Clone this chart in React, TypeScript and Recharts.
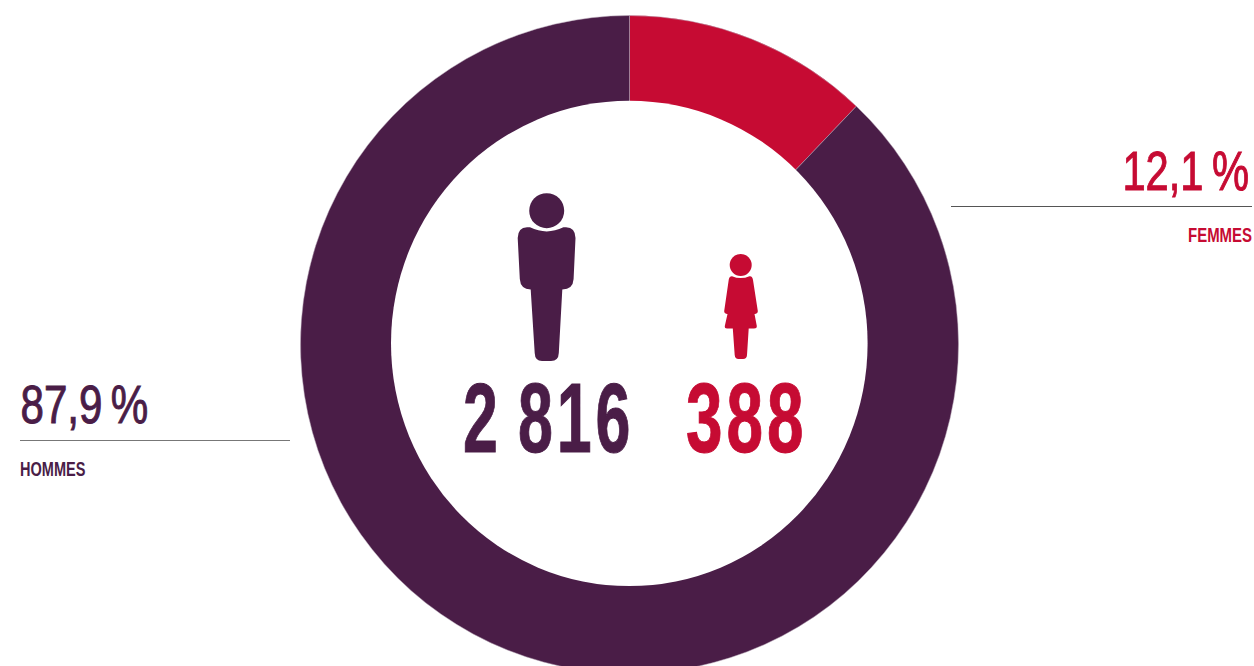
import React from "react";
import { PieChart, Pie, Cell } from "recharts";

const categories = ["FEMMES", "HOMMES"];
const counts = [388, 2816];
const countLabels = ["388", "2\u2009816"];
const percentLabels = ["12,1\u2009%", "87,9\u2009%"];
const colors = ["#c60b33", "#4a1d47"];

const data = categories.map((name, i) => ({ name, value: counts[i] }));
const FONT = "'Liberation Sans Narrow', 'Liberation Sans', sans-serif";

const W = 1254;
const H = 666;

function Label(p: {
  x: number; y: number; sx: number; size: number; fill: string; children: React.ReactNode;
  bold?: boolean; sw?: number; end?: boolean; spacing?: number;
}) {
  return (
    <text
      transform={`translate(${p.x} ${p.y}) scale(${p.sx} 1)`}
      fill={p.fill}
      stroke={p.sw ? p.fill : undefined}
      strokeWidth={p.sw}
      fontFamily={FONT}
      fontWeight={p.bold ? 700 : 400}
      fontSize={p.size}
      letterSpacing={p.spacing}
      textAnchor={p.end ? "end" : "start"}
    >
      {p.children}
    </text>
  );
}

export default function App() {
  const [red, plum] = colors;
  return (
    <div style={{ position: "absolute", left: 0, top: 0, width: W, height: H, overflow: "hidden", background: "#fff" }}>
      <div style={{ position: "absolute", left: 0, top: 0 }}>
        <PieChart width={W} height={H} margin={{ top: 0, right: 0, bottom: 0, left: 0 }}>
          <Pie
            data={data}
            dataKey="value"
            nameKey="name"
            cx={629.5}
            cy={344.5}
            innerRadius={236}
            outerRadius={329}
            startAngle={90}
            endAngle={-270}
            stroke="#b9a9b8"
            strokeWidth={0.5}
            isAnimationActive={false}
          >
            {data.map((d, i) => (
              <Cell key={d.name} fill={colors[i]} />
            ))}
          </Pie>
        </PieChart>
      </div>
      <svg width={W} height={H} style={{ position: "absolute", left: 0, top: 0 }}>
        {/* the hole of the ring is slightly taller than wide */}
        <ellipse cx={629.3} cy={343.4} rx={238.3} ry={242.7} fill="#fff" />

        {/* man */}
        <circle cx={546.7} cy={210.7} r={17.5} fill={plum} />
        <path
          fill={plum}
          d="M530 227.3 Q546.7 235.5 563.4 227.3 L566 227.3 Q575.3 227.5 575.5 238 L573.6 279 Q573 289.3 562.3 289.5 L558.8 353 Q558.5 361 551 361 L542 361 Q535 361 534.7 353 L530.7 289.5 Q520.5 289.3 519.8 279 L517.7 238 Q518 227.5 527 227.3 Z"
        />
        {/* woman */}
        <circle cx={740.7} cy={265} r={11} fill={red} />
        <path
          fill={red}
          d="M732 276.2 Q740.7 280 749.5 276.2 L750 276.2 Q752.5 276.5 753 280 L757.8 311 Q758 313.5 754.5 314 L756.8 326 Q757 328.5 754 328.5 L748.7 328.5 L747 355 Q746.8 359 743 359 L738.5 359 Q735 359 734.7 355 L732.8 328.5 L727 328.5 Q724.5 328.5 724.8 326 L727.5 314 Q724 313.5 724.2 311 L728.7 280 Q729 276.5 732 276.2 Z"
        />

        <Label x={463} y={452} sx={0.64} size={98} fill={plum} bold sw={1} spacing={6}>{countLabels[1]}</Label>
        <Label x={686} y={452} sx={0.67} size={98} fill={red} bold sw={1} spacing={6}>{countLabels[0]}</Label>

        <Label x={1249} y={189.5} sx={0.745} size={56} fill={red} sw={1} end>{percentLabels[0]}</Label>
        <line x1={951} x2={1252} y1={206.5} y2={206.5} stroke="#555" strokeWidth={1} />
        <Label x={1252} y={241.7} sx={0.73} size={20.5} fill={red} bold end>{categories[0]}</Label>

        <Label x={20.5} y={423} sx={0.78} size={54} fill={plum} sw={1}>{percentLabels[1]}</Label>
        <line x1={20} x2={290} y1={440.5} y2={440.5} stroke="#777" strokeWidth={1} />
        <Label x={20} y={476} sx={0.71} size={20.5} fill={plum} bold>{categories[1]}</Label>
      </svg>
    </div>
  );
}
